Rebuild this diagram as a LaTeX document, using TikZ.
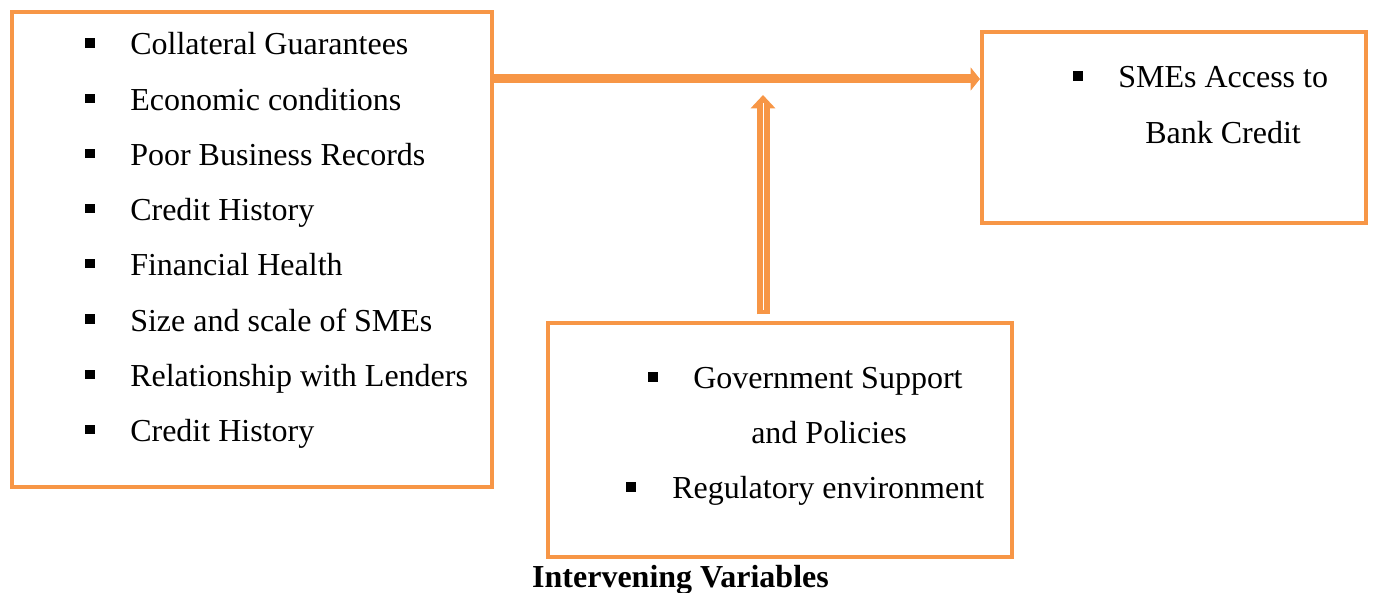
\documentclass[tikz,border=0pt]{standalone}
\usepackage{fontspec}
\setmainfont{Liberation Serif}
\usetikzlibrary{arrows.meta}
\definecolor{boxorange}{RGB}{247,150,70}
\tikzset{
  box/.style={draw=boxorange, line width=3pt, inner sep=0pt, fill=none},
  bul/.style={fill=black, minimum size=6.9pt, inner sep=0pt},
  txt/.style={anchor=base west, inner sep=0pt, font=\fontsize{24}{28}\selectfont},
  harrow/.style={draw=boxorange, line width=6.75pt, -{Triangle[length=7pt,width=17pt]}},
  varrow/.style={draw=boxorange, line width=9.75pt, -{Triangle[length=10pt,width=18pt]}},
}
\begin{document}
\begin{tikzpicture}[x=0.75pt, y=-0.75pt]
\useasboundingbox (0,0) rectangle (1373,592);
% boxes
\node[box, minimum width=360pt, minimum height=356.25pt] (L) at (252,249.5) {};
\node[box, minimum width=288pt, minimum height=143.25pt] (R) at (1174,127.5) {};
\node[box, minimum width=348pt, minimum height=175.5pt] (B) at (780,440) {};
% left list
\foreach \t [count=\i] in {Collateral Guarantees, Economic conditions, Poor Business Records, Credit History, Financial Health, Size and scale of SMEs, Relationship with Lenders, Credit History}{
  \pgfmathsetmacro{\yb}{55+(\i-1)*55.2}
  \node[bul] (lb\i) at (90,\yb-12) {};
  \node[txt] (lt\i) at (130,\yb) {\t};
}
% right box text
\node[bul] (rb1) at (1078,76) {};
\node[txt] (rt1) at (1118,88) {SMEs Access to};
\node[txt] (rt2) at (1145,143) {Bank Credit};
% bottom box text
\node[bul] (bb1) at (653,377) {};
\node[txt] (bt1) at (693,388) {Government Support};
\node[txt] (bt2) at (751,443) {and Policies};
\node[bul] (bb2) at (631,487) {};
\node[txt] (bt3) at (672,498) {Regulatory environment};
\node[anchor=base, inner sep=0pt, font=\fontsize{24}{28}\selectfont\bfseries] (cap) at (680.5,587) {Intervening Variables};
% connectors
\coordinate (hy) at (0,79);
\coordinate (vx) at (763,0);
\coordinate (vt) at (763,95);
\draw[harrow] (L.east |- hy) -- (R.west |- hy);
\draw[varrow, shorten <=5pt] (B.north -| vx) -- (vt);
\draw[white, line width=0.6pt] ([yshift=8.5pt]B.north -| vx) -- ([yshift=-6pt]vt);
\end{tikzpicture}
\end{document}
